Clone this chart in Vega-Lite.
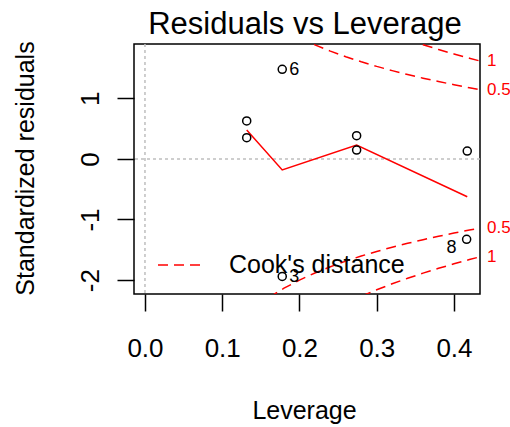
{
  "$schema": "https://vega.github.io/schema/vega-lite/v6.json",
  "width": 346,
  "height": 250,
  "autosize": "none",
  "padding": {"left": 134, "top": 44, "right": 30, "bottom": 133},
  "background": "white",
  "config": {
    "font": "Liberation Sans",
    "view": {"stroke": "black", "strokeWidth": 1.5}
  },
  "title": {
    "text": "Residuals vs Leverage",
    "fontSize": 31,
    "fontWeight": "normal",
    "font": "Liberation Sans",
    "color": "black",
    "anchor": "middle",
    "baseline": "alphabetic",
    "offset": -24,
    "dx": -2
  },
  "datasets": {
    "pts": [
      {"h": 0.1317, "r": 0.626, "label": ""},
      {"h": 0.1317, "r": 0.350, "label": ""},
      {"h": 0.1777, "r": 1.479, "label": "6"},
      {"h": 0.1777, "r": -1.94, "label": "3"},
      {"h": 0.274, "r": 0.383, "label": ""},
      {"h": 0.274, "r": 0.147, "label": ""},
      {"h": 0.4172, "r": 0.130, "label": ""},
      {"h": 0.4164, "r": -1.327, "label": "8"}
    ],
    "smooth": [
      {"h": 0.1317, "r": 0.477},
      {"h": 0.1777, "r": -0.183},
      {"h": 0.274, "r": 0.229},
      {"h": 0.4172, "r": -0.624}
    ],
    "cook": [
      {"curve": "u05", "h": 0.20, "r": 2.0},
      {"curve": "u05", "h": 0.22, "r": 1.8829},
      {"curve": "u05", "h": 0.24, "r": 1.7795},
      {"curve": "u05", "h": 0.26, "r": 1.687},
      {"curve": "u05", "h": 0.28, "r": 1.6036},
      {"curve": "u05", "h": 0.30, "r": 1.5275},
      {"curve": "u05", "h": 0.32, "r": 1.4577},
      {"curve": "u05", "h": 0.34, "r": 1.3933},
      {"curve": "u05", "h": 0.36, "r": 1.3333},
      {"curve": "u05", "h": 0.38, "r": 1.2773},
      {"curve": "u05", "h": 0.40, "r": 1.2247},
      {"curve": "u05", "h": 0.42, "r": 1.1751},
      {"curve": "u05", "h": 0.4337, "r": 1.1427},
      {"curve": "u1", "h": 0.34, "r": 1.9704},
      {"curve": "u1", "h": 0.36, "r": 1.8856},
      {"curve": "u1", "h": 0.38, "r": 1.8064},
      {"curve": "u1", "h": 0.40, "r": 1.7321},
      {"curve": "u1", "h": 0.42, "r": 1.6619},
      {"curve": "u1", "h": 0.4337, "r": 1.616},
      {"curve": "l05", "h": 0.16, "r": -2.2913},
      {"curve": "l05", "h": 0.18, "r": -2.1344},
      {"curve": "l05", "h": 0.20, "r": -2.0},
      {"curve": "l05", "h": 0.22, "r": -1.8829},
      {"curve": "l05", "h": 0.24, "r": -1.7795},
      {"curve": "l05", "h": 0.26, "r": -1.687},
      {"curve": "l05", "h": 0.28, "r": -1.6036},
      {"curve": "l05", "h": 0.30, "r": -1.5275},
      {"curve": "l05", "h": 0.32, "r": -1.4577},
      {"curve": "l05", "h": 0.34, "r": -1.3933},
      {"curve": "l05", "h": 0.36, "r": -1.3333},
      {"curve": "l05", "h": 0.38, "r": -1.2773},
      {"curve": "l05", "h": 0.40, "r": -1.2247},
      {"curve": "l05", "h": 0.42, "r": -1.1751},
      {"curve": "l05", "h": 0.4337, "r": -1.1427},
      {"curve": "l1", "h": 0.28, "r": -2.2678},
      {"curve": "l1", "h": 0.30, "r": -2.1602},
      {"curve": "l1", "h": 0.32, "r": -2.0616},
      {"curve": "l1", "h": 0.34, "r": -1.9704},
      {"curve": "l1", "h": 0.36, "r": -1.8856},
      {"curve": "l1", "h": 0.38, "r": -1.8064},
      {"curve": "l1", "h": 0.40, "r": -1.7321},
      {"curve": "l1", "h": 0.42, "r": -1.6619},
      {"curve": "l1", "h": 0.4337, "r": -1.616}
    ],
    "cooklabels": [
      {"h": 0.4337, "r": 1.616, "label": "1"},
      {"h": 0.4337, "r": 1.1427, "label": "0.5"},
      {"h": 0.4337, "r": -1.1427, "label": "0.5"},
      {"h": 0.4337, "r": -1.616, "label": "1"}
    ]
  },
  "layer": [
    {
      "data": {"values": [{}]},
      "mark": {"type": "rule", "strokeDash": [3, 3], "color": "#bebebe", "strokeWidth": 1.5},
      "encoding": {
        "y": {"datum": 0, "type": "quantitative", "scale": {"domain": [-2.23, 1.897], "nice": false, "zero": false}}
      }
    },
    {
      "data": {"values": [{}]},
      "mark": {"type": "rule", "strokeDash": [3, 3], "color": "#bebebe", "strokeWidth": 1.5},
      "encoding": {
        "x": {"datum": 0, "type": "quantitative", "scale": {"domain": [-0.0142, 0.4337], "nice": false, "zero": false}}
      }
    },
    {
      "data": {"name": "cook"},
      "mark": {"type": "line", "clip": true, "strokeDash": [10, 6], "strokeWidth": 1.5},
      "encoding": {
        "x": {
          "field": "h", "type": "quantitative",
          "scale": {"domain": [-0.0142, 0.4337], "nice": false, "zero": false},
          "axis": {
            "values": [0, 0.1, 0.2, 0.3, 0.4],
            "format": ".1f",
            "grid": false,
            "domain": false,
            "tickSize": 17,
            "tickWidth": 1.5,
            "tickColor": "black",
            "labelFontSize": 26,
            "labelColor": "black",
            "labelBaseline": "alphabetic",
            "labelPadding": 45,
            "labelFlush": false,
            "labelOverlap": false,
            "labelBound": false,
            "title": "Leverage",
            "titleFontSize": 25,
            "titleFontWeight": "normal",
            "titleColor": "black",
            "titleX": 170,
            "titleY": 124,
            "titleAlign": "center",
            "titleBaseline": "alphabetic"
          }
        },
        "y": {
          "field": "r", "type": "quantitative",
          "scale": {"domain": [-2.23, 1.897], "nice": false, "zero": false},
          "axis": {
            "values": [-2, -1, 0, 1],
            "labelExpr": "datum.value < 0 ? '-' + format(-datum.value, 'd') : format(datum.value, 'd')",
            "grid": false,
            "domain": false,
            "tickSize": 17,
            "tickWidth": 1.5,
            "tickColor": "black",
            "labelFontSize": 26,
            "labelColor": "black",
            "labelAngle": -90,
            "labelAlign": "center",
            "labelBaseline": "alphabetic",
            "labelPadding": 19,
            "labelOverlap": false,
            "labelFlush": false,
            "labelBound": false,
            "title": "Standardized residuals",
            "titleFontSize": 25,
            "titleFontWeight": "normal",
            "titleColor": "black",
            "titleAngle": -90,
            "titleX": -101,
            "titleY": 124,
            "titleAlign": "center",
            "titleBaseline": "alphabetic"
          }
        },
        "detail": {"field": "curve", "type": "nominal"},
        "order": {"field": "h", "type": "quantitative"},
        "color": {
          "datum": "Cook's distance",
          "type": "nominal",
          "scale": {"range": ["red"]},
          "legend": {
            "title": null,
            "orient": "none",
            "legendX": 23,
            "legendY": 199,
            "padding": 0,
            "symbolType": "stroke",
            "symbolSize": 1764,
            "symbolDash": [10, 6],
            "symbolStrokeWidth": 1.5,
            "labelFontSize": 25,
            "labelColor": "black",
            "labelOffset": 28,
            "labelLimit": 400
          }
        }
      }
    },
    {
      "data": {"name": "smooth"},
      "mark": {"type": "line", "color": "red", "strokeWidth": 1.5},
      "encoding": {
        "x": {"field": "h", "type": "quantitative", "scale": {"domain": [-0.0142, 0.4337], "nice": false, "zero": false}},
        "y": {"field": "r", "type": "quantitative", "scale": {"domain": [-2.23, 1.897], "nice": false, "zero": false}}
      }
    },
    {
      "data": {"name": "pts"},
      "mark": {"type": "point", "shape": "circle", "filled": false, "size": 65, "stroke": "black", "strokeWidth": 1.5, "opacity": 1},
      "encoding": {
        "x": {"field": "h", "type": "quantitative", "scale": {"domain": [-0.0142, 0.4337], "nice": false, "zero": false}},
        "y": {"field": "r", "type": "quantitative", "scale": {"domain": [-2.23, 1.897], "nice": false, "zero": false}}
      }
    },
    {
      "data": {"name": "pts"},
      "transform": [{"filter": "datum.label != '' && datum.h < 0.3"}],
      "mark": {"type": "text", "align": "left", "baseline": "middle", "dx": 7, "dy": 1, "fontSize": 18, "color": "black"},
      "encoding": {
        "x": {"field": "h", "type": "quantitative", "scale": {"domain": [-0.0142, 0.4337], "nice": false, "zero": false}},
        "y": {"field": "r", "type": "quantitative", "scale": {"domain": [-2.23, 1.897], "nice": false, "zero": false}},
        "text": {"field": "label"}
      }
    },
    {
      "data": {"name": "pts"},
      "transform": [{"filter": "datum.label != '' && datum.h >= 0.3"}],
      "mark": {"type": "text", "align": "right", "baseline": "middle", "dx": -10, "dy": 9, "fontSize": 18, "color": "black"},
      "encoding": {
        "x": {"field": "h", "type": "quantitative", "scale": {"domain": [-0.0142, 0.4337], "nice": false, "zero": false}},
        "y": {"field": "r", "type": "quantitative", "scale": {"domain": [-2.23, 1.897], "nice": false, "zero": false}},
        "text": {"field": "label"}
      }
    },
    {
      "data": {"name": "cooklabels"},
      "mark": {"type": "text", "align": "left", "baseline": "middle", "dx": 7, "fontSize": 17, "color": "red", "clip": false},
      "encoding": {
        "x": {"field": "h", "type": "quantitative", "scale": {"domain": [-0.0142, 0.4337], "nice": false, "zero": false}},
        "y": {"field": "r", "type": "quantitative", "scale": {"domain": [-2.23, 1.897], "nice": false, "zero": false}},
        "text": {"field": "label"}
      }
    }
  ]
}
